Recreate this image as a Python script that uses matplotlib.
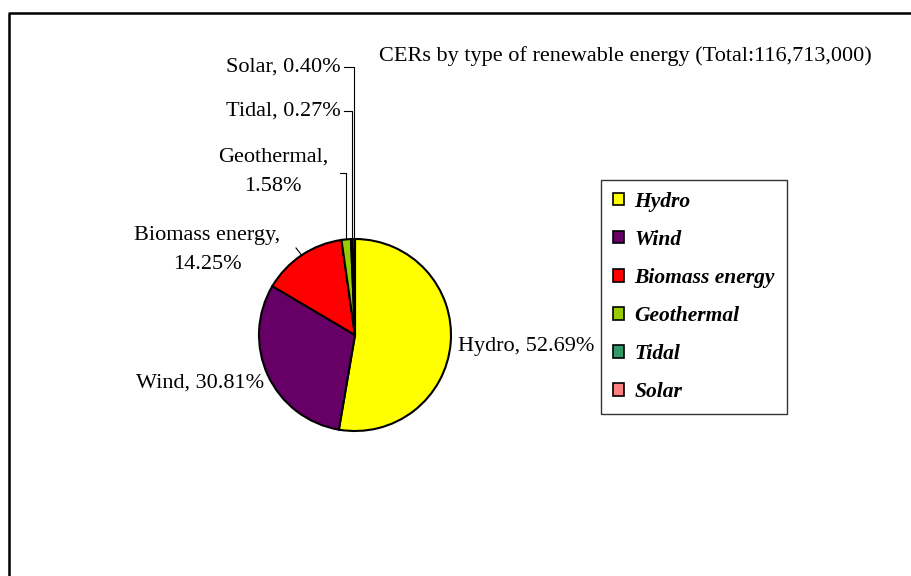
import numpy as np
import matplotlib.pyplot as plt
from matplotlib.patches import Patch

plt.rcParams['font.family'] = ['Liberation Serif', 'DejaVu Serif']

# CER shares by renewable energy type (%)
types = ['Hydro', 'Wind', 'Biomass energy', 'Geothermal', 'Tidal', 'Solar']
shares = [52.69, 30.81, 14.25, 1.58, 0.27, 0.40]
colors = ['#FFFF00', '#660066', '#FF0000', '#99CC00', '#339966', '#FF8080']
total = '116,713,000'

W, H = 912, 576
fig = plt.figure(figsize=(W / 100, H / 100), dpi=100)
ax = fig.add_axes([0, 0, 1, 1])

# pie geometry in pixel units (y measured upward)
cx, cy, r = 355, H - 335, 96

wedges, _ = ax.pie(shares, colors=colors, startangle=90, counterclock=False,
                   center=(cx, cy), radius=r,
                   wedgeprops=dict(edgecolor='black', linewidth=1.5))

ax.set_xlim(0, W)
ax.set_ylim(0, H)
ax.set_aspect('equal')
ax.axis('off')

# outer chart frame
ax.plot([9, 9, W + 5], [-5, H - 13, H - 13], color='black', lw=1.8,
        clip_on=False)


def rim_point(i):
    # point on the rim at the middle of wedge i
    cum = np.cumsum([0] + shares)
    mid = (cum[i] + cum[i + 1]) / 2 / sum(shares)
    ang = np.deg2rad(90 - mid * 360)
    return cx + r * np.cos(ang), cy + r * np.sin(ang)


def lab(i):
    return f'{types[i]}, {shares[i]:.2f}%'


fs = 16
ax.text(458, H - 346, lab(0), ha='left', va='center', fontsize=fs)
ax.text(264, H - 383, lab(1), ha='right', va='center', fontsize=fs)
ax.text(207, H - 250, f'{types[2]},\n{shares[2]:.2f}%', ha='center',
        va='center', fontsize=fs, linespacing=1.75)
ax.text(273, H - 172, f'{types[3]},\n{shares[3]:.2f}%', ha='center',
        va='center', fontsize=fs, linespacing=1.75)
ax.text(341, H - 111, lab(4), ha='right', va='center', fontsize=fs)
ax.text(341, H - 67, lab(5), ha='right', va='center', fontsize=fs)

# leader lines for the small slices
bx, by = rim_point(2)
ax.plot([296, bx], [H - 248, by], color='black', lw=0.8)
for i, (x0, y0) in [(3, (340, H - 173)), (4, (344, H - 111)),
                    (5, (344, H - 67))]:
        px, py = rim_point(i)
        ax.plot([x0, px, px], [y0, y0, py], color='black', lw=0.8)

ax.text(379, H - 56, f'CERs by type of renewable energy (Total:{total})',
        ha='left', va='center', fontsize=fs)

handles = [Patch(facecolor=c, edgecolor='black', linewidth=1.2) for c in colors]
leg = ax.legend(handles, types, loc='upper left',
                bbox_to_anchor=(601 / W, 1 - 180 / H),
                bbox_transform=fig.transFigure,
                prop=dict(family='Liberation Serif', weight='bold',
                          style='italic', size=15.5),
                frameon=True, fancybox=False, edgecolor='black',
                handlelength=0.5, handleheight=0.5, handletextpad=0.5,
                labelspacing=0.84, borderpad=0.55, borderaxespad=0)
leg.get_frame().set_linewidth(1.0)

plt.savefig('out.png', dpi=100)
